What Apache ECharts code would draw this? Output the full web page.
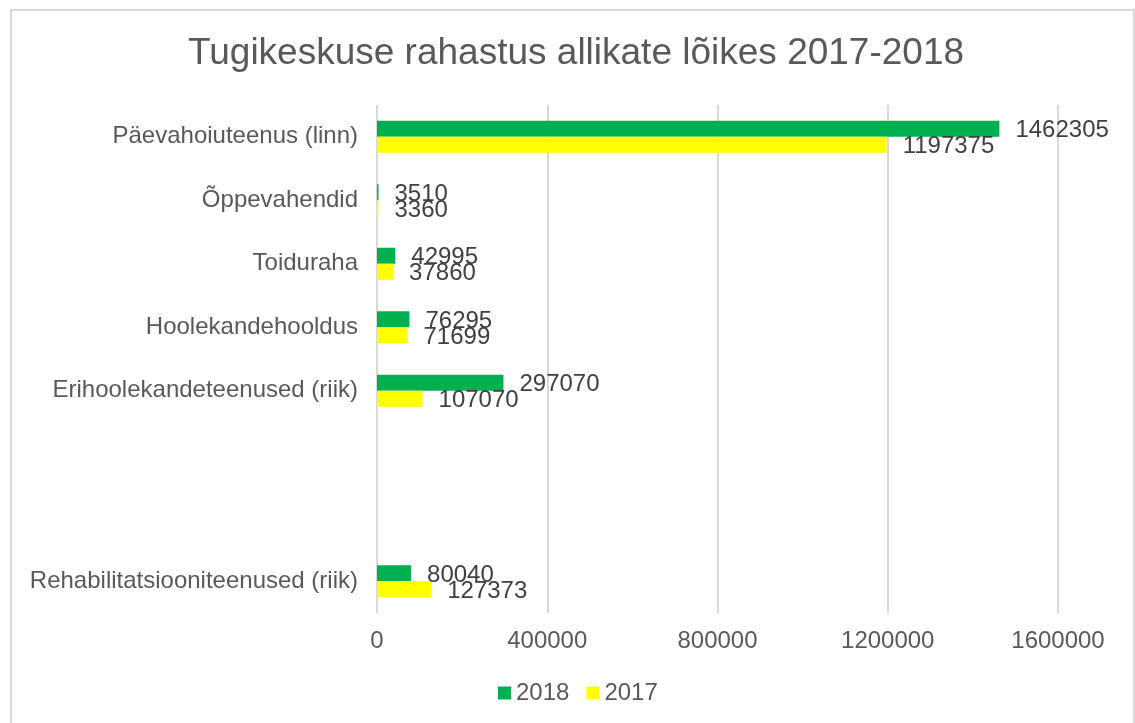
<!DOCTYPE html>
<html>
<head>
<meta charset="utf-8">
<script src="https://cdn.jsdelivr.net/npm/echarts@6/dist/echarts.min.js"></script>
<style>
  html, body { margin: 0; padding: 0; background: #fff; }
  #chart { width: 1135px; height: 723px; }
</style>
</head>
<body>
<div id="chart"></div>
<script>
// categories top to bottom, two empty slots like in the source sheet
const categories = [
    'Päevahoiuteenus (linn)',
    'Õppevahendid',
    'Toiduraha',
    'Hoolekandehooldus',
    'Erihoolekandeteenused (riik)',
    '',
    ' ',
    'Rehabilitatsiooniteenused (riik)'
]
const values2018 = [1462305, 3510, 42995, 76295, 297070, null, null, 80040]
const values2017 = [1197375, 3360, 37860, 71699, 107070, null, null, 127373]
const seriesNames = ['2018', '2017']
const colors = ['#00B050', '#FFFF00']

const fontFamily = '"Liberation Sans", Arial, sans-serif'
const textGrey = '#595959'

const chart = echarts.init(document.getElementById('chart'))

const makeSeries = (name, data, color) => ({
    name,
    type: 'bar',
    data,
    barWidth: 16,
    barGap: '0%',
    itemStyle: { color },
    label: {
        show: true,
        position: 'right',
        distance: 16,
        offset: [0, 2],
        color: '#404040',
        fontSize: 24,
        fontFamily
    }
})

const option = {
    animation: false,
    textStyle: { fontFamily },
    graphic: [{
        type: 'rect',
        shape: { x: 11, y: 10, width: 1123, height: 730 },
        style: { fill: 'none', stroke: '#d9d9d9', lineWidth: 2 },
        silent: true
    }],
    title: {
        text: 'Tugikeskuse rahastus allikate lõikes 2017-2018',
        left: 183,
        top: 30,
        textStyle: {
            color: textGrey,
            fontSize: 37,
            fontWeight: 'normal',
            fontFamily
        }
    },
    legend: {
        data: seriesNames,
        left: 498,
        top: 681,
        padding: 0,
        icon: 'rect',
        itemWidth: 13,
        itemHeight: 13,
        itemGap: 17,
        textStyle: { color: textGrey, fontSize: 24, fontFamily }
    },
    grid: {
        left: 377,
        right: 77,
        top: 105,
        height: 508,
        containLabel: false
    },
    xAxis: {
        type: 'value',
        min: 0,
        max: 1600000,
        interval: 400000,
        axisLine: { show: false },
        axisTick: { show: false },
        axisLabel: {
            color: textGrey,
            fontSize: 24,
            fontFamily,
            margin: 16,
            formatter: v => String(v)
        },
        splitLine: { show: true, lineStyle: { color: '#d9d9d9', width: 2 } }
    },
    yAxis: {
        type: 'category',
        data: categories,
        inverse: true,
        axisLine: { show: false },
        axisTick: { show: false },
        axisLabel: { color: textGrey, fontSize: 24, fontFamily, margin: 19 }
    },
    series: [
        makeSeries(seriesNames[0], values2018, colors[0]),
        makeSeries(seriesNames[1], values2017, colors[1])
    ]
}

chart.setOption(option)
</script>
</body>
</html>
